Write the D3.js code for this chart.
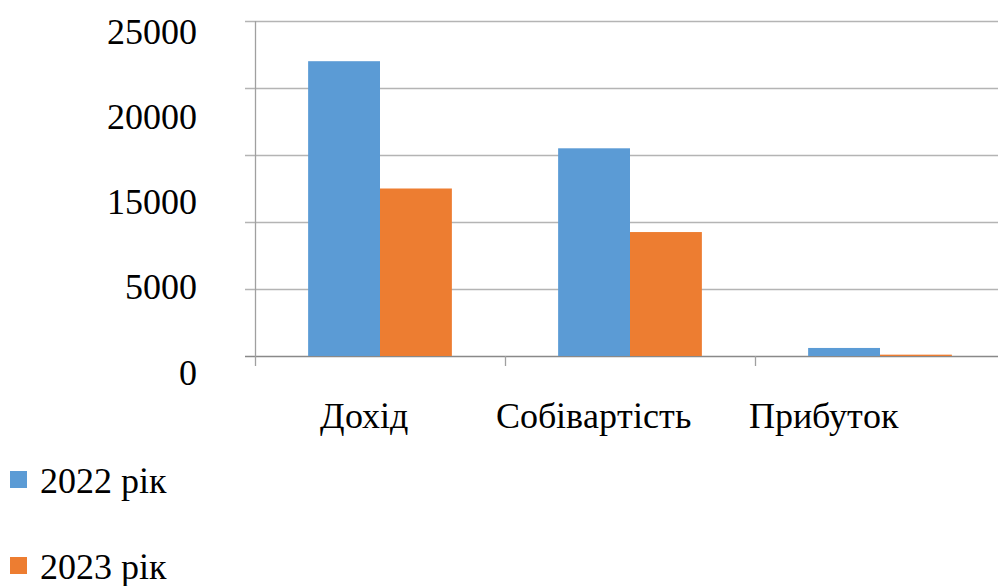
<!DOCTYPE html>
<html>
<head>
<meta charset="utf-8">
<script src="https://cdn.jsdelivr.net/npm/d3@7"></script>
<style>
@font-face { font-family: "ChartSerif"; src: local("Liberation Serif"), local("LiberationSerif"), local("LiberationSerif-Regular"), local("DejaVu Serif"); }
</style>
</head>
<body style="margin:0">
<script>
// chart data
var categories = ["Дохід", "Собівартість", "Прибуток"];
var seriesNames = ["2022 рік", "2023 рік"];
var values2022 = [22000, 15500, 600];
var values2023 = [12500, 9250, 100];
var yTickValues = [0, 5000, 10000, 15000, 20000, 25000];
var yTickLabels = ["25000", "20000", "15000", "5000", "0"];

var colors = ["#5b9bd5", "#ed7d31"];
var fontFam = "ChartSerif, 'Liberation Serif', serif";
var svgWidth = 998, svgHeight = 586;

var svg = d3.select("body").append("svg")
	.attr("width", svgWidth)
	.attr("height", svgHeight);

var rows = categories.map(function(c, i){
	return { cat: c, vals: [values2022[i], values2023[i]] };
});

var x0 = d3.scaleBand().domain(categories).range([255, 1005]);
var groupW = x0.bandwidth() * 0.575;
var x1 = d3.scaleBand().domain(seriesNames)
	.range([(x0.bandwidth() - groupW) / 2, (x0.bandwidth() + groupW) / 2]);
var y = d3.scaleLinear().domain([0, 25000]).range([356, 21]);

// gridlines
svg.append("g").selectAll("line")
	.data(yTickValues)
	.enter().append("line")
		.attr("x1", 245).attr("x2", 998)
		.attr("y1", function(d){ return Math.round(y(d)) + 0.5; })
		.attr("y2", function(d){ return Math.round(y(d)) + 0.5; })
		.attr("stroke", function(d){ return d === 0 ? "#898989" : "#b4b4b4"; })
		.attr("stroke-width", 1.3);

// bars
var groups = svg.append("g").selectAll("g")
	.data(rows)
	.enter().append("g")
		.attr("transform", function(d){ return "translate(" + x0(d.cat) + ",0)"; });
groups.selectAll("rect")
	.data(function(d){ return d.vals.map(function(v, i){ return { name: seriesNames[i], v: v, i: i }; }); })
	.enter().append("rect")
		.attr("x", function(d){ return x1(d.name); })
		.attr("width", x1.bandwidth())
		.attr("y", function(d){ return y(d.v); })
		.attr("height", function(d){ return y(0) - y(d.v); })
		.attr("fill", function(d){ return colors[d.i]; });

// axis lines
svg.append("line")
	.attr("x1", 255.5).attr("x2", 255.5).attr("y1", 21).attr("y2", 366)
	.attr("stroke", "#a0a0a0").attr("stroke-width", 1.3);
svg.append("g").selectAll("line")
	.data(categories.slice(1))
	.enter().append("line")
		.attr("x1", function(d){ return Math.round(x0(d)) + 0.5; })
		.attr("x2", function(d){ return Math.round(x0(d)) + 0.5; })
		.attr("y1", 356).attr("y2", 366)
		.attr("stroke", "#a0a0a0").attr("stroke-width", 1.3);

// y labels (laid out on their own spacing, as in the source)
var yLab = d3.scalePoint().domain(yTickLabels).range([31, 372]);
svg.append("g").selectAll("text")
	.data(yTickLabels)
	.enter().append("text")
		.attr("x", 197)
		.attr("y", function(d){ return yLab(d); })
		.attr("dy", "0.35em")
		.attr("text-anchor", "end")
		.attr("font-size", 36)
		.style("font-family", fontFam)
		.text(function(d){ return d; });

// category labels
var xLab = d3.scalePoint().domain(categories).range([364, 823]);
svg.append("g").selectAll("text")
	.data(categories)
	.enter().append("text")
		.attr("x", function(d){ return xLab(d); })
		.attr("y", 428)
		.attr("text-anchor", "middle")
		.attr("font-size", 36)
		.style("font-family", fontFam)
		.text(function(d){ return d; });

// legend
var leg = svg.append("g").selectAll("g")
	.data(seriesNames)
	.enter().append("g")
		.attr("transform", function(d, i){ return "translate(10," + (471 + i * 86) + ")"; });
leg.append("rect")
	.attr("width", 17).attr("height", 17)
	.attr("fill", function(d, i){ return colors[i]; });
leg.append("text")
	.attr("x", 30).attr("y", 9)
	.attr("dy", "0.35em")
	.attr("font-size", 36)
	.style("font-family", fontFam)
	.text(function(d){ return d; });
</script>
</body>
</html>
